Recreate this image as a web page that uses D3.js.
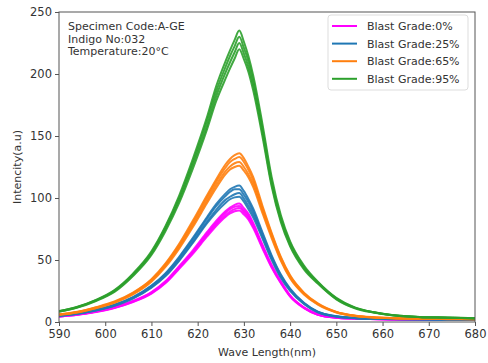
<!DOCTYPE html>
<html>
<head>
<meta charset="utf-8">
<script src="https://cdn.jsdelivr.net/npm/d3@7"></script>
<style>
  body { margin: 0; background: #fff; }
  text { font-family: "DejaVu Sans", sans-serif; fill: #333; }
</style>
</head>
<body>
<script>
// wavelength sample points (nm)
let wavelengths = [590,594,598,602,606,610,613,616,619,622,624,626,627,628,629,630,631,632,634,636,638,640,643,646,650,654,658,662,668,674,680];

// replicate spectra per blast grade
let grade0 = [
  [4.6,6.2,8.5,11.9,16.9,24.1,32.8,45.1,58,72.4,81.5,89.3,92.3,94.5,95.5,91.8,87.2,80,62.5,46.1,32.8,21.5,11.8,6.2,3.6,2.9,2.5,2.2,2,1.9,1.9],
  [4.5,6.1,8.4,11.7,16.7,23.7,32.3,44.4,57,71.2,80.2,87.9,91,93,93.5,90,85.7,78.7,61.5,45.4,32.3,21.2,11.6,6.1,3.5,2.8,2.4,2.1,1.9,1.8,1.8],
  [4.4,5.9,8.2,11.5,16.3,23.3,31.7,43.6,56.1,70,78.8,86.1,89,91,92,88.5,84.2,77.3,60.5,44.6,31.7,20.8,11.4,5.9,3.5,2.8,2.4,2.1,1.9,1.8,1.7],
  [4.3,5.8,8.1,11.3,16.1,22.9,31.2,42.9,55.2,68.8,77.4,84.7,87.5,89.3,90,86.7,82.6,75.9,59.5,43.9,31.2,20.5,11.2,5.8,3.4,2.7,2.3,2,1.8,1.7,1.7]
];
let grade25 = [
  [5.2,7,9.8,13.9,20.1,29.4,39.2,52.6,68,84.5,95,103.5,107,109,110,105.5,99,91.5,72.5,53.8,38.3,26.9,15.5,8.3,4.7,3.3,2.8,2.5,2.3,2.1,2.1],
  [5.1,6.9,9.6,13.7,19.8,28.9,38.6,51.8,67,83.2,93.5,101.5,105,107,107,102.5,96.5,89.2,71,52.6,37.5,26.3,15.2,8.1,4.6,3.2,2.7,2.4,2.2,2,2],
  [4.9,6.7,9.4,13.3,19.2,28.1,37.4,50.2,65,80.8,90.5,98.5,101,103,104,99.5,93.5,86.8,69,51.4,36.5,25.7,14.8,7.9,4.4,3.2,2.7,2.4,2.2,2,2],
  [4.8,6.6,9.2,13.1,18.9,27.6,36.8,49.4,64,79.5,88.5,96,99,100.5,101,97,91,84.5,67.5,50.2,35.7,25.1,14.5,7.7,4.3,3.1,2.6,2.3,2.1,1.9,1.9]
];
let grade65 = [
  [6.2,8.3,11.9,16.5,23.7,34.5,47,63,82,102,115,127,131.5,134.5,136,132,125,117,94,72,52.5,37.6,23.7,15,8.2,5.2,3.9,3.3,2.8,2.5,2.4],
  [6.1,8.1,11.7,16.2,23.3,34,46.3,62,80.5,100.2,113,124.5,129,131.5,133,129,122.5,114.5,92,70.8,51.6,37,23.3,14.7,8.1,5.1,3.8,3.2,2.7,2.4,2.3],
  [5.9,7.9,11.3,15.8,22.7,33.2,45.2,60.5,78.5,97.8,110.5,121.5,125.5,128,129,125,119,111.5,90,69.2,50.4,36,22.7,14.3,7.9,4.9,3.7,3.1,2.6,2.4,2.3],
  [5.8,7.7,11.1,15.5,22.2,32.5,44.2,59.2,76.8,95.7,108,119,123,125,126,122,116.5,109,88,67.7,49.4,35.3,22.2,14,7.7,4.8,3.6,3,2.6,2.3,2.2]
];
let grade95 = [
  [8.8,12.4,17.9,25.8,39,57,77,102,132,165,190,210,219,227.5,235,226,214,199,160,117,86,65,45.5,32.5,19.5,11.8,8,5.7,4.1,3.6,3.1],
  [8.6,12.1,17.6,25.3,38.4,56,76,100,129.5,162,186,205.5,214.5,222.5,230,221,210,195,156.5,114,84,64,44.5,32,19.1,11.6,7.9,5.6,4,3.5,3],
  [8.4,11.9,17.3,24.8,37.7,55,74.5,98,127,158,182,201,209.5,217.5,225,216.5,205.5,191,153,111.5,82,62,43.5,31.5,18.7,11.4,7.8,5.5,4,3.5,3],
  [8.2,11.6,16.9,24.2,37,54,73,96,124,155,178,196,204.5,212.5,220,212,201.5,187,150,109.5,80.5,61,42.5,31,18.3,11.1,7.6,5.4,3.9,3.4,2.9]
];

let seriesNames = ['Blast Grade:0%', 'Blast Grade:25%', 'Blast Grade:65%', 'Blast Grade:95%'];
let seriesColors = ['#ff00ff', '#1f77b4', '#ff7f0e', '#2ca02c'];
let xTicks = [590, 600, 610, 620, 630, 640, 650, 660, 670, 680];
let yTicks = [0, 50, 100, 150, 200, 250];
let infoLines = ['Specimen Code:A-GE', 'Indigo No:032', 'Temperature:20\u00b0C'];

let allSeries = [grade0, grade25, grade65, grade95];

let margin = {top: 12, left: 59, bottom: 41, right: 13};
let W = 488, H = 363;
let width = W - margin.left - margin.right;
let height = H - margin.top - margin.bottom;

let svg = d3.select('body').append('svg').attr('width', W).attr('height', H);
let g = svg.append('g').attr('transform', 'translate(' + margin.left + ',' + margin.top + ')');

let x = d3.scaleLinear().domain([590, 680]).range([0, width]);
let y = d3.scaleLinear().domain([0, 250]).range([height, 0]);

let line = d3.line()
  .x(function(d, i) { return x(wavelengths[i]); })
  .y(function(d) { return y(d); })
  .curve(d3.curveMonotoneX);

g.append('defs').append('clipPath').attr('id', 'clip')
  .append('rect').attr('width', width).attr('height', height);

let plot = g.append('g').attr('clip-path', 'url(#clip)');

allSeries.forEach(function(reps, s) {
  plot.append('g').selectAll('path').data(reps).enter().append('path')
    .attr('d', line)
    .attr('fill', 'none')
    .attr('stroke', seriesColors[s])
    .attr('stroke-width', 2)
    .attr('stroke-linejoin', 'round')
    .attr('opacity', 0.9);
});

// axes
let xAxis = g.append('g').attr('transform', 'translate(0,' + height + ')')
  .call(d3.axisBottom(x).tickValues(xTicks).tickSize(4).tickPadding(4));
let yAxis = g.append('g')
  .call(d3.axisLeft(y).tickValues(yTicks).tickSize(4).tickPadding(3));

[xAxis, yAxis].forEach(function(a) {
  a.select('.domain').remove();
  a.selectAll('line').attr('stroke', '#555');
  a.selectAll('text').style('font-size', '11.5px').style('font-family', '"DejaVu Sans", sans-serif').attr('fill', '#333');
});

// frame
g.append('rect').attr('width', width).attr('height', height)
  .attr('fill', 'none').attr('stroke', '#555').attr('stroke-width', 1);

// axis labels
svg.append('text').attr('x', margin.left + width / 2).attr('y', 356)
  .attr('text-anchor', 'middle').style('font-size', '11px').text('Wave Length(nm)');
svg.append('text').attr('transform', 'translate(21,' + (margin.top + height / 2) + ') rotate(-90)')
  .attr('text-anchor', 'middle').style('font-size', '11px').text('Intencity(a.u)');

// info text
g.selectAll('.info').data(infoLines).enter().append('text')
  .attr('x', 9).attr('y', function(d, i) { return 18 + i * 12.5; })
  .style('font-size', '11px').text(function(d) { return d; });

// legend
let legend = svg.append('g').attr('transform', 'translate(328,15)');
legend.append('rect').attr('width', 140).attr('height', 75).attr('rx', 3)
  .attr('fill', '#fff').attr('fill-opacity', 0.8).attr('stroke', '#ddd');
let items = legend.selectAll('.item').data(seriesNames).enter().append('g')
  .attr('transform', function(d, i) { return 'translate(0,' + (11 + i * 17.6) + ')'; });
items.append('line').attr('x1', 4).attr('x2', 29)
  .attr('stroke', function(d, i) { return seriesColors[i]; }).attr('stroke-width', 2);
items.append('text').attr('x', 39).attr('y', 4).style('font-size', '11px').text(function(d) { return d; });
</script>
</body>
</html>
